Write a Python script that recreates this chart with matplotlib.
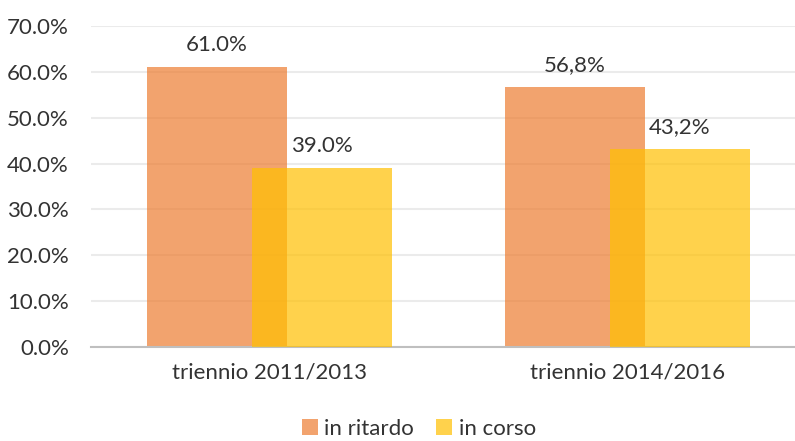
import matplotlib.pyplot as plt
import numpy as np

plt.rcParams['font.family'] = ['Lato', 'DejaVu Sans']

categories = ["triennio 2011/2013", "triennio 2014/2016"]
in_ritardo = [61.0, 56.8]
in_corso = [39.0, 43.2]
lab_ritardo = ["61.0%", "56,8%"]
lab_corso = ["39.0%", "43,2%"]
yticks = [0, 10, 20, 30, 40, 50, 60, 70]

fig = plt.figure(figsize=(7.95, 4.41), dpi=100)
ax = fig.add_axes([0.1145, 0.2132, 0.8855, 0.7278])

x = np.arange(len(categories))
w = 0.391
off = 0.1466
fs = 16
tc = "#333333"

b1 = ax.bar(x - off, in_ritardo, w, color="#ED7D31", alpha=0.7, label="in ritardo", zorder=2)
b2 = ax.bar(x + off, in_corso, w, color="#FFC000", alpha=0.7, label="in corso", zorder=3)

for rect, t in zip(b1, lab_ritardo):
    ax.text(rect.get_x() + rect.get_width() / 2, rect.get_height() + 2.6, t,
            ha="center", va="bottom", fontsize=fs, color=tc)
for rect, t in zip(b2, lab_corso):
    ax.text(rect.get_x() + rect.get_width() / 2, rect.get_height() + 2.6, t,
            ha="center", va="bottom", fontsize=fs, color=tc)

ax.set_xlim(-0.4986, 1.468)
ax.set_ylim(0, 70)
ax.set_yticks(yticks)
ax.set_yticklabels(["%.1f%%" % v for v in yticks], fontsize=fs, color=tc)
ax.set_xticks(x)
ax.set_xticklabels(categories, fontsize=fs, color=tc)
ax.tick_params(length=0)
ax.tick_params(axis="y", pad=16)
ax.tick_params(axis="x", pad=11)

ax.grid(axis="y", color="#EBEBEB", lw=1.5, zorder=0)
ax.set_axisbelow(True)
for s in ["top", "right", "left"]:
    ax.spines[s].set_visible(False)
ax.spines["bottom"].set_color("#BFBFBF")
ax.spines["bottom"].set_linewidth(1.5)

fig.legend(handles=[b1, b2], loc="lower center", bbox_to_anchor=(0.527, -0.04), ncol=2,
           frameon=False, fontsize=fs, handlelength=0.7, handleheight=0.7,
           handletextpad=0.3, columnspacing=1.0, labelcolor=tc)

plt.savefig("out.png", dpi=100)
